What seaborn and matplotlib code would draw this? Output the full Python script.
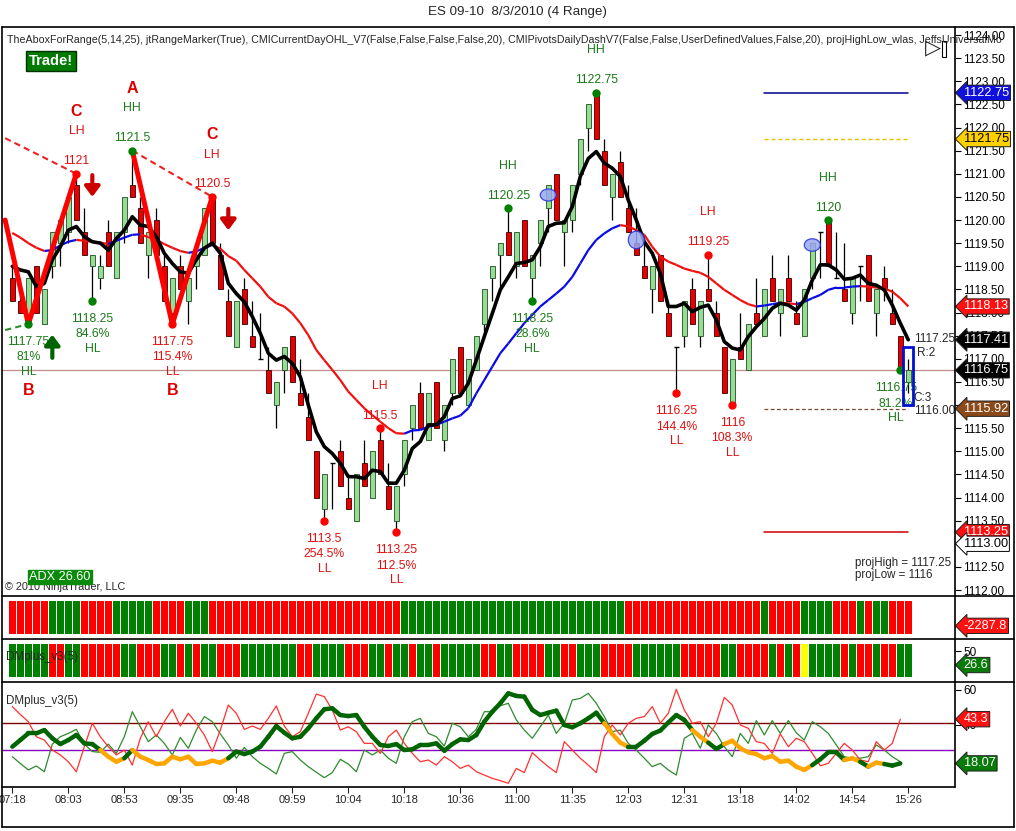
import numpy as np
import pandas as pd
import matplotlib
matplotlib.use("Agg")
import matplotlib.pyplot as plt
import matplotlib.transforms as mtransforms
from matplotlib.collections import LineCollection
from matplotlib.lines import Line2D
from matplotlib.patches import Ellipse, Rectangle
import seaborn as sns

sns.set_style("white")
plt.rcParams["font.family"] = ["Liberation Sans", "DejaVu Sans"]

# ES 09-10 4-range bars, 8/3/2010
opens = [1118.75, 1118.25, 1117.75, 1119.0, 1117.75, 1119.0, 1119.5, 1119.75, 1120.75, 1119.75,
         1119.0, 1118.75, 1119.75, 1118.75, 1119.75, 1120.75, 1120.25, 1119.25, 1120.0, 1119.0,
         1118.0, 1119.0, 1118.25, 1119.0, 1119.25, 1120.5, 1119.25, 1118.25, 1117.25, 1118.5,
         1117.5, 1117.0, 1116.75, 1116.0, 1116.75, 1117.5, 1116.25, 1115.75, 1115.0, 1113.75,
         1114.75, 1115.0, 1114.0, 1113.5, 1114.75, 1114.0, 1115.25, 1114.25, 1113.5, 1114.5,
         1115.5, 1116.25, 1115.25, 1116.5, 1115.25, 1116.25, 1117.25, 1116.0, 1116.75, 1117.75,
         1118.75, 1119.25, 1119.75, 1119.0, 1120.0, 1118.75, 1119.5, 1120.25, 1121.0, 1119.75,
         1120.0, 1121.0, 1122.0, 1122.75, 1121.5, 1120.5, 1121.25, 1120.25, 1119.5, 1119.0,
         1118.5, 1119.25, 1118.0, 1117.25, 1117.5, 1118.5, 1117.5, 1118.5, 1118.0, 1117.25,
         1116.0, 1117.25, 1116.75, 1118.0, 1117.5, 1118.75, 1118.0, 1118.75, 1118.0, 1117.5,
         1118.75, 1119.75, 1120.0, 1118.75, 1118.5, 1118.0, 1119.0, 1119.25, 1118.0, 1118.75,
         1118.0, 1117.5, 1116.5]
highs = [1119.0, 1118.75, 1118.75, 1119.0, 1118.5, 1119.75, 1120.0, 1120.5, 1121.0, 1120.25,
         1119.25, 1119.25, 1120.0, 1119.75, 1120.5, 1121.5, 1120.5, 1119.75, 1120.25, 1119.25,
         1118.75, 1119.25, 1118.75, 1119.5, 1120.25, 1120.5, 1119.5, 1118.5, 1118.25, 1118.75,
         1118.25, 1118.0, 1117.25, 1116.5, 1117.25, 1117.5, 1117.0, 1116.25, 1115.0, 1114.5,
         1114.75, 1115.25, 1114.5, 1114.5, 1115.25, 1115.0, 1115.5, 1114.75, 1114.25, 1115.25,
         1116.0, 1116.5, 1116.25, 1116.5, 1116.0, 1117.0, 1117.25, 1117.0, 1117.5, 1118.5,
         1119.0, 1119.5, 1120.25, 1119.75, 1120.0, 1119.25, 1120.0, 1120.75, 1121.0, 1120.0,
         1120.75, 1121.75, 1122.5, 1122.75, 1121.75, 1121.0, 1121.5, 1120.75, 1120.25, 1119.5,
         1119.0, 1119.25, 1118.25, 1117.25, 1118.25, 1118.75, 1118.25, 1119.25, 1118.25, 1117.25,
         1117.0, 1118.0, 1117.75, 1118.75, 1118.5, 1119.25, 1118.5, 1119.25, 1118.25, 1118.5,
         1119.5, 1119.75, 1120.0, 1119.75, 1119.5, 1118.75, 1119.0, 1119.25, 1118.5, 1119.0,
         1118.5, 1117.5, 1117.0]
lows = [1118.25, 1118.0, 1117.75, 1118.0, 1117.75, 1118.75, 1119.0, 1119.5, 1120.0, 1119.25,
        1118.25, 1118.5, 1119.0, 1118.75, 1119.5, 1120.5, 1119.5, 1118.75, 1119.25, 1118.25,
        1117.75, 1118.5, 1117.75, 1118.5, 1119.25, 1119.5, 1118.5, 1117.5, 1117.25, 1117.75,
        1117.25, 1117.0, 1116.25, 1115.5, 1116.25, 1116.5, 1116.0, 1115.25, 1114.0, 1113.5,
        1113.75, 1114.25, 1113.75, 1113.5, 1114.25, 1114.0, 1114.5, 1113.75, 1113.25, 1114.25,
        1115.25, 1115.5, 1115.25, 1115.5, 1115.0, 1116.0, 1116.25, 1116.0, 1116.75, 1117.5,
        1118.25, 1118.5, 1119.25, 1118.75, 1119.0, 1118.25, 1119.0, 1119.75, 1120.0, 1119.0,
        1119.75, 1120.75, 1121.5, 1121.75, 1120.75, 1120.0, 1120.5, 1119.75, 1119.25, 1118.75,
        1118.0, 1118.25, 1117.5, 1116.25, 1117.25, 1117.75, 1117.25, 1118.25, 1117.5, 1116.25,
        1116.0, 1117.0, 1116.75, 1117.75, 1117.5, 1118.25, 1117.5, 1118.25, 1117.75, 1117.5,
        1118.5, 1118.75, 1119.0, 1118.75, 1118.25, 1117.75, 1118.25, 1118.25, 1117.5, 1118.25,
        1117.75, 1116.75, 1116.25]
closes = [1118.25, 1118.0, 1118.75, 1118.0, 1118.5, 1119.75, 1120.0, 1120.5, 1120.0, 1119.25,
          1119.25, 1119.0, 1119.0, 1119.75, 1120.5, 1120.5, 1119.5, 1119.75, 1119.25, 1118.25,
          1118.75, 1118.5, 1118.75, 1119.25, 1120.25, 1119.5, 1118.5, 1117.5, 1118.25, 1117.75,
          1117.25, 1117.0, 1116.25, 1116.5, 1117.25, 1116.5, 1116.0, 1115.25, 1114.0, 1114.5,
          1114.75, 1114.25, 1113.75, 1114.5, 1114.25, 1115.0, 1114.5, 1113.75, 1114.25, 1115.25,
          1116.0, 1115.5, 1116.25, 1115.5, 1116.0, 1117.0, 1116.25, 1117.0, 1117.5, 1118.5,
          1119.0, 1119.5, 1119.25, 1119.75, 1119.0, 1119.25, 1120.0, 1120.75, 1120.0, 1120.0,
          1120.75, 1121.75, 1122.5, 1121.75, 1120.75, 1121.0, 1120.5, 1119.75, 1119.25, 1118.75,
          1119.0, 1118.25, 1117.5, 1117.25, 1118.25, 1117.75, 1118.25, 1118.25, 1117.5, 1116.25,
          1117.0, 1117.0, 1117.75, 1117.75, 1118.5, 1118.25, 1118.5, 1118.25, 1117.75, 1118.5,
          1119.5, 1119.75, 1119.0, 1118.75, 1118.25, 1118.75, 1119.0, 1118.25, 1118.5, 1118.5,
          1117.75, 1116.75, 1116.75]
fast_ma = [1119.0, 1118.92, 1118.88, 1118.56, 1118.63, 1119.14, 1119.42, 1119.78, 1119.86, 1119.64,
           1119.53, 1119.5, 1119.35, 1119.6, 1119.78, 1120.07, 1119.89, 1119.86, 1119.64, 1119.28,
           1119.06, 1118.88, 1118.85, 1119.14, 1119.39, 1119.5, 1119.28, 1118.63, 1118.41, 1118.23,
           1117.91, 1117.55, 1117.12, 1116.97, 1117.05, 1116.9, 1116.61, 1116.0, 1115.42, 1115.1,
           1114.95, 1114.74, 1114.45, 1114.45, 1114.41, 1114.59, 1114.56, 1114.31, 1114.31, 1114.59,
           1115.06, 1115.21, 1115.57, 1115.57, 1115.75, 1116.14, 1116.2, 1116.47, 1116.97, 1117.48,
           1117.98, 1118.49, 1118.77, 1119.06, 1119.08, 1119.14, 1119.42, 1119.86, 1119.93, 1119.94,
           1120.29, 1120.94, 1121.33, 1121.48, 1121.23, 1121.12, 1120.94, 1120.43, 1120.0, 1119.53,
           1119.28, 1118.85, 1118.13, 1118.13, 1118.2, 1118.02, 1118.11, 1118.16, 1117.84, 1117.37,
           1117.23, 1117.19, 1117.48, 1117.69, 1117.87, 1118.09, 1118.2, 1118.16, 1118.05, 1118.27,
           1118.7, 1119.03, 1119.03, 1118.92, 1118.72, 1118.74, 1118.81, 1118.63, 1118.59, 1118.49,
           1118.16, 1117.77, 1117.41]
slow_ma = [1119.72, 1119.62, 1119.5, 1119.4, 1119.33, 1119.35, 1119.45, 1119.53, 1119.57, 1119.55,
           1119.53, 1119.51, 1119.48, 1119.55, 1119.62, 1119.68, 1119.69, 1119.63, 1119.57, 1119.48,
           1119.4, 1119.33, 1119.29, 1119.32, 1119.4, 1119.46, 1119.38, 1119.22, 1119.12, 1118.92,
           1118.74, 1118.56, 1118.34, 1118.2, 1118.13, 1117.98, 1117.77, 1117.51, 1117.19, 1116.97,
           1116.76, 1116.54, 1116.29, 1116.11, 1115.93, 1115.78, 1115.64, 1115.5, 1115.39, 1115.38,
           1115.45, 1115.46, 1115.53, 1115.57, 1115.64, 1115.71, 1115.77, 1115.93, 1116.25, 1116.54,
           1116.83, 1117.12, 1117.33, 1117.55, 1117.77, 1117.95, 1118.13, 1118.27, 1118.41, 1118.56,
           1118.77, 1119.06, 1119.35, 1119.57, 1119.71, 1119.82, 1119.89, 1119.86, 1119.78, 1119.68,
           1119.42, 1119.21, 1119.1, 1119.03, 1118.95, 1118.9, 1118.86, 1118.77, 1118.63, 1118.49,
           1118.38, 1118.27, 1118.18, 1118.13, 1118.15, 1118.18, 1118.21, 1118.2, 1118.18, 1118.23,
           1118.31, 1118.38, 1118.49, 1118.54, 1118.54, 1118.56, 1118.57, 1118.56, 1118.54, 1118.52,
           1118.45, 1118.31, 1118.13]

time_labels = ["07:18", "08:03", "08:53", "09:35", "09:48", "09:59", "10:04", "10:18", "10:36",
               "11:00", "11:35", "12:03", "12:31", "13:18", "14:02", "14:54", "15:26"]

# swing points
hi_idx = [8, 15, 25, 46, 62, 73, 87, 102]
hi_price = [1121.0, 1121.5, 1120.5, 1115.5, 1120.25, 1122.75, 1119.25, 1120.0]
hi_kind = ["LH", "HH", "LH", "LH", "HH", "HH", "LH", "HH"]
lo_idx = [2, 10, 20, 39, 48, 65, 83, 90, 111]
lo_price = [1117.75, 1118.25, 1117.75, 1113.5, 1113.25, 1118.25, 1116.25, 1116.0, 1116.75]
lo_pct = ["81%", "84.6%", "115.4%", "254.5%", "112.5%", "28.6%", "144.4%", "108.3%", "81.2%"]
lo_kind = ["HL", "HL", "LL", "LL", "LL", "HL", "LL", "LL", "HL"]
abc_letter = ["C", "A", "C", "B", "B"]
abc_idx = [8, 15, 25, 2, 20]

# zigzag legs (index, price)
zz1_idx, zz1_price = [-0.9, 2, 8], [1120.0, 1117.75, 1121.0]
zz2_idx, zz2_price = [15, 20, 25], [1121.5, 1117.75, 1120.5]
dash1_idx, dash1_price = [-0.9, 8], [1121.77, 1121.0]
dash2_idx, dash2_price = [15, 25], [1121.5, 1120.5]
gdash_idx, gdash_price = [-0.9, 2], [1117.62, 1117.75]

arrow_idx = [10, 27, 5]
arrow_from = [1120.97, 1120.24, 1117.02]
arrow_to = [1120.5, 1119.78, 1117.52]

oval_idx = [67, 78, 100]
oval_price = [1120.54, 1119.57, 1119.46]
oval_h = [0.26, 0.38, 0.27]

proj_high, proj_low = 1117.25, 1116.0
level_blue, level_yellow, level_red, level_brown = 1122.75, 1121.75, 1113.25, 1115.92
level_white = 1113.0
day_open = 1116.75

# indicator panels
trend_bars = ("RRRRRGGGGRRRRGGGGGRRRRGGGRRRRRRRRRRRRRRRRRRRRRRRRGGGGGGGGGGGGGGGGGGGGGGGGGGGG"
              "RRRRRRRRRRRRRRRRRGRRRRGGGGRRRGRGGRRR")
trend_value = "-2287.8"
dm_bars = ("GGGGGRRGGRRRRRGGRRRGGRGRGGRRRGGGGGGGRRGGGGRRRGGRGGRGGRGGGGGRRGGRRRRGGRRGGGRRRR"
           "GGGGGGRRRRRGGRRRRGRGRYGGGGRGRRGRRGG")
dm_value = 26.6
adx_value = "ADX 26.60"
adx = [27.6, 31.4, 35.2, 35.2, 37.1, 32.4, 29.1, 31.4, 34.3, 29.5, 29.1, 25.7, 21.9, 19.0, 21.0,
       25.7, 21.9, 20.0, 17.7, 18.1, 21.9, 20.4, 21.9, 17.7, 18.1, 19.6, 18.5, 21.0, 24.8, 23.4,
       24.8, 27.6, 33.3, 39.4, 35.6, 32.4, 33.3, 38.1, 43.8, 49.0, 49.5, 45.7, 45.1, 45.7, 39.0,
       33.3, 28.6, 28.0, 29.1, 25.7, 26.1, 28.6, 28.6, 29.5, 25.3, 29.1, 31.8, 31.4, 34.3, 41.9,
       47.6, 52.4, 58.1, 56.6, 56.2, 48.6, 45.7, 47.0, 48.2, 40.0, 38.7, 41.0, 43.8, 47.0, 41.0,
       34.9, 29.9, 27.6, 27.6, 31.0, 34.9, 36.8, 41.4, 45.7, 42.9, 37.1, 33.3, 29.9, 26.3, 29.1,
       31.0, 26.7, 24.4, 23.4, 21.0, 22.3, 19.0, 19.6, 16.2, 14.3, 17.1, 20.4, 24.4, 24.4, 20.0,
       21.0, 19.0, 16.2, 18.5, 17.7, 16.8, 18.07]
adx_col = ("GGGGGGGGGGGOOOGOOOOOOOOOOOOGGGGGGGGGGGGGGGGGGGGGGGGGGGGGGGGGGGGGGGGGGGGGGGOOOGGGGGGGG"
           "OOGGOOOOOOOOOOOGGGGOOGOOG")
di_plus = [21.9, 18.0, 14.3, 16.6, 13.3, 29.1, 33.3, 35.2, 37.5, 29.1, 24.8, 24.4, 29.1, 23.8, 33.3,
           47.6, 39.0, 30.5, 34.3, 29.5, 22.9, 32.9, 26.7, 37.1, 44.8, 41.9, 34.9, 28.6, 21.0, 27.2,
           21.9, 18.1, 15.2, 12.0, 23.8, 24.8, 20.0, 16.2, 13.0, 9.9, 12.8, 20.4, 17.7, 13.3, 25.7,
           22.9, 25.7, 21.0, 18.1, 33.3, 41.9, 43.8, 35.2, 33.3, 28.0, 41.0, 39.0, 33.3, 37.5, 47.6,
           47.6, 51.0, 52.4, 42.9, 37.1, 32.4, 39.0, 45.7, 35.2, 41.0, 54.3, 55.2, 58.1, 52.4, 44.8,
           36.2, 37.1, 29.5, 25.7, 21.0, 16.2, 18.1, 14.3, 11.4, 32.4, 35.2, 26.7, 40.0, 35.2, 27.6,
           21.9, 35.2, 29.5, 42.5, 34.3, 42.5, 35.2, 42.5, 35.6, 31.4, 41.9, 39.0, 35.2, 28.6, 21.9,
           21.0, 21.0, 21.9, 28.6, 25.7, 21.9, 19.0]
di_minus = [50.5, 46.0, 41.9, 33.3, 31.4, 25.7, 22.9, 19.0, 13.3, 27.6, 41.0, 33.3, 27.6, 22.9, 25.7,
            17.1, 32.4, 41.9, 33.3, 41.9, 49.0, 39.4, 46.7, 41.0, 34.3, 24.8, 37.1, 51.4, 46.7, 37.5,
            39.4, 37.5, 43.8, 50.9, 39.4, 33.3, 36.2, 46.7, 57.7, 56.2, 48.6, 37.1, 39.0, 36.2, 29.5,
            29.5, 23.8, 33.3, 37.1, 29.5, 23.8, 19.0, 20.0, 17.1, 21.9, 19.0, 15.2, 17.1, 13.3, 11.4,
            9.5, 8.2, 6.7, 15.2, 12.8, 24.2, 20.0, 16.2, 12.8, 30.5, 25.7, 21.0, 17.1, 12.8, 33.3,
            40.0, 34.3, 41.0, 43.8, 44.8, 50.5, 41.0, 46.7, 60.4, 48.6, 41.0, 41.9, 33.3, 41.0, 55.8,
            51.4, 40.0, 38.1, 30.5, 29.5, 23.8, 34.9, 27.6, 32.4, 30.5, 23.8, 16.7, 18.1, 23.8, 29.5,
            25.7, 20.0, 19.0, 30.5, 25.7, 29.5, 43.3]
dm_hi_level, dm_lo_level = 41.0, 25.7

RED, GREEN = "#e01010", "#1a7a1a"
W, H = 1016, 831


def rect(l, t, r, b):
    return [l / W, 1 - b / H, (r - l) / W, (b - t) / H]


def fpt(x, y):
    return x / W, 1 - y / H


fig = plt.figure(figsize=(W / 100, H / 100), dpi=100)
fig.patch.set_facecolor("white")
ax = fig.add_axes(rect(2, 27, 955, 595))
ax2 = fig.add_axes(rect(2, 596, 955, 638), sharex=ax)
ax3 = fig.add_axes(rect(2, 639, 955, 681), sharex=ax)
ax4 = fig.add_axes(rect(2, 682, 955, 787), sharex=ax)
for a in (ax, ax2, ax3, ax4):
    a.set_facecolor("white")
    for s in a.spines.values():
        s.set_visible(False)
    a.yaxis.tick_right()
    a.tick_params(axis="y", direction="out", length=4, width=0.8, pad=2, labelsize=8.5, colors="black")
    a.tick_params(axis="x", bottom=False, labelbottom=False)
ax.set_xlim(-1.29, 117.84)

# ---- price panel ----
df = pd.DataFrame({"o": opens, "h": highs, "l": lows, "c": closes})
df["x"] = np.arange(len(df))
up = df[df.c > df.o]
dn = df[df.c < df.o]
dj = df[df.c == df.o]
ax.axhline(day_open, color="#c08c8c", lw=0.9, zorder=1)
ax.vlines(df.x, df.l, df.h, color="black", lw=0.9, zorder=2)
ax.bar(up.x, up.c - up.o, bottom=up.o, width=0.62, color="#96dc96", edgecolor="#1f4f1f", lw=0.6, zorder=3)
ax.bar(dn.x, dn.o - dn.c, bottom=dn.c, width=0.62, color="#e80000", edgecolor="#3a0000", lw=0.6, zorder=3)
ax.hlines(dj.c, dj.x - 0.31, dj.x + 0.31, color="black", lw=1.0, zorder=3)

pts = np.column_stack([df.x, slow_ma])
segs = np.stack([pts[:-1], pts[1:]], axis=1)
seg_cols = ["#0a0ae6" if b >= a else "#f01010" for a, b in zip(slow_ma[:-1], slow_ma[1:])]
ax.add_collection(LineCollection(segs, colors=seg_cols, linewidths=1.6, zorder=4))
sns.lineplot(x=df.x, y=fast_ma, ax=ax, color="black", linewidth=2.6, zorder=5, legend=False)

# ABC zigzag
ax.plot(zz1_idx, zz1_price, color="#ff0000", lw=3.6, zorder=6, solid_capstyle="round")
ax.plot(zz2_idx, zz2_price, color="#ff0000", lw=3.6, zorder=6, solid_capstyle="round")
ax.plot(dash1_idx, dash1_price, color="#ee2020", lw=1.5, ls=(0, (3, 2)), zorder=6)
ax.plot(dash2_idx, dash2_price, color="#ee2020", lw=1.5, ls=(0, (3, 2)), zorder=6)
ax.plot(gdash_idx, gdash_price, color="#2e8b2e", lw=1.5, ls=(0, (3, 2)), zorder=6)

# projection levels
seg_x = [94, 112]
ax.plot(seg_x, [level_blue] * 2, color="#00008b", lw=1.1, zorder=2)
ax.plot(seg_x, [level_yellow] * 2, color="#e8c000", lw=1.0, ls=(0, (3, 2)), zorder=2)
ax.plot(seg_x, [level_red] * 2, color="#cc0000", lw=1.1, zorder=2)
ax.plot(seg_x, [level_brown] * 2, color="#7a4a2a", lw=0.9, ls=(0, (3, 2)), zorder=2)

# swing labels
for i, p, k in zip(hi_idx, hi_price, hi_kind):
    c = GREEN if k == "HH" else RED
    ax.plot(i, p, "o", ms=5, color="#008000" if k == "HH" else "#ff0000", zorder=7)
    ax.annotate(f"{p:g}", (i, p), xytext=(0, 9), textcoords="offset points", ha="center",
                va="center", color=c, fontsize=8.8, zorder=8)
    ax.annotate(k, (i, p), xytext=(0, 30.5), textcoords="offset points", ha="center",
                va="center", color=c, fontsize=8.8, zorder=8)
for i, p, pc, k in zip(lo_idx, lo_price, lo_pct, lo_kind):
    c = GREEN if k == "HL" else RED
    ax.plot(i, p, "o", ms=5, color="#008000" if k == "HL" else "#ff0000", zorder=7)
    for off, t in zip([-13, -24, -34.5], [f"{p:g}", pc, k]):
        ax.annotate(t, (i, p), xytext=(-3 if i > 105 else 0, off), textcoords="offset points",
                    ha="center", va="center", color=c, fontsize=8.8, zorder=8)
for letter, i in zip(abc_letter, abc_idx):
    p = df.h[i] if letter != "B" else df.l[i]
    off = 45 if letter != "B" else -47.5
    ax.annotate(letter, (i, p), xytext=(0, off), textcoords="offset points", ha="center",
                va="center", color="#dd0000", fontsize=11.5, fontweight="bold", zorder=8)

for i, a, b in zip(arrow_idx, arrow_from, arrow_to):
    col = "#006400" if b > a else "#cc0000"
    ax.annotate("", xy=(i, b), xytext=(i, a),
                arrowprops=dict(arrowstyle="-|>,head_width=0.45,head_length=0.6", color=col,
                                lw=3.0, shrinkA=0, shrinkB=0), zorder=8)

for i, p, hh in zip(oval_idx, oval_price, oval_h):
    ax.add_patch(Ellipse((i, p), 2.0, hh, fc="#9aa8f0", ec="#2030e0", lw=0.9, alpha=0.85, zorder=8))

ax.add_patch(Rectangle((111.4, proj_low), 1.2, proj_high - proj_low, fill=False, ec="#0010d0",
                       lw=2.0, zorder=9))
ax.annotate(f"{proj_high:.2f}", (112.6, proj_high), xytext=(1, 6), textcoords="offset points",
            fontsize=8.5, ha="left", va="center", zorder=9)
ax.annotate("R:2", (112.6, proj_high), xytext=(3, -4), textcoords="offset points",
            fontsize=8.5, ha="left", va="center", zorder=9)
ax.annotate("C:3", (112.6, proj_low), xytext=(0, 5), textcoords="offset points",
            fontsize=8.5, ha="left", va="center", zorder=9)
ax.annotate(f"{proj_low:.2f}", (112.6, proj_low), xytext=(1, -4.5), textcoords="offset points",
            fontsize=8.5, ha="left", va="center", zorder=9)
ax.text(105.3, 1112.45, f"projHigh = {proj_high:g}\nprojLow = {proj_low:g}", fontsize=8.3,
        ha="left", va="center", linespacing=1.0, zorder=9)

ax.set_ylim(1111.892, 1124.173)
ax.set_yticks(np.arange(1112, 1124.01, 0.5))
ax.set_yticklabels([f"{v:.2f}" for v in np.arange(1112, 1124.01, 0.5)])


def tag(a, val, text, fc, tc="white", ec=None, axes_y=False):
    tr = a.transAxes if axes_y else mtransforms.blended_transform_factory(a.transAxes, a.transData)
    a.text(1.009, val, text, transform=tr, ha="left", va="center", fontsize=9.2, color=tc,
           bbox=dict(boxstyle="larrow,pad=0.13", fc=fc, ec=ec or "#202020", lw=0.7),
           clip_on=False, zorder=30)


tag(ax, level_blue, f"{level_blue:.2f}", "#1010dd")
tag(ax, level_yellow, f"{level_yellow:.2f}", "#ffd000", tc="black")
tag(ax, slow_ma[-1], f"{slow_ma[-1]:.2f}", "#ff1010")
tag(ax, fast_ma[-1], f"{fast_ma[-1]:.2f}", "black")
tag(ax, closes[-1], f"{closes[-1]:.2f}", "black")
tag(ax, level_brown, f"{level_brown:.2f}", "#8b4a1a")
tag(ax, level_red, f"{level_red:.2f}", "#ff1010")
tag(ax, level_white, f"{level_white:.2f}", "white", tc="black", ec="black")

# ---- colour-bar panels ----
cmap = {"R": "#ff0000", "G": "#008000", "Y": "#ffff00"}
ax2.bar(np.arange(len(trend_bars)), 0.785, bottom=0.095, width=0.84,
        color=[cmap[c] for c in trend_bars], lw=0)
ax2.set_ylim(0, 1)
ax2.set_yticks([])
tag(ax2, 0.29, trend_value, "#ff1010", axes_y=True)

ax3.bar(np.arange(len(dm_bars)), 55, bottom=6.6, width=0.84,
        color=[cmap[c] for c in dm_bars], lw=0)
ax3.set_ylim(0, 70)
ax3.set_yticks([50])
tag(ax3, dm_value, f"{dm_value:.1f}", "#0a7a0a")
ax3.text(0.004, 0.57, "DMplus_v3(5)", transform=ax3.transAxes, fontsize=8.3, va="center", zorder=5)

# ---- DMplus panel ----
kx = np.arange(len(adx))
ax4.axhline(dm_hi_level, color="#800000", lw=1.0, zorder=1)
ax4.axhline(dm_lo_level, color="#8a00c0", lw=1.0, zorder=1)
sns.lineplot(x=kx, y=di_plus, ax=ax4, color="#2e8b2e", linewidth=0.9, legend=False, zorder=2)
sns.lineplot(x=kx, y=di_minus, ax=ax4, color="#ff3030", linewidth=0.9, legend=False, zorder=2)
apts = np.column_stack([kx, adx])
asegs = np.stack([apts[:-1], apts[1:]], axis=1)
ax4.add_collection(LineCollection(asegs, colors=["#006400" if c == "G" else "#ffa500" for c in adx_col],
                                  linewidths=3.2, zorder=3, capstyle="round", joinstyle="round"))
ax4.set_ylim(4.57, 64.57)
ax4.set_yticks([40, 60])
ax4.text(0.004, 0.82, "DMplus_v3(5)", transform=ax4.transAxes, fontsize=8.3, va="center")
tag(ax4, di_minus[-1], f"{di_minus[-1]:.1f}", "#ff1010")
tag(ax4, adx[-1], f"{adx[-1]:.2f}", "#0a7a0a")
ax4.set_xticks(np.arange(0, len(closes), 7))
ax4.set_xticklabels(time_labels)
ax4.tick_params(axis="x", bottom=True, labelbottom=True, direction="out", length=4, width=0.8,
                pad=2, labelsize=8.0)
for a in (ax, ax2, ax3, ax4):
    a.set_xlabel("")
    a.set_ylabel("")
ax.set_xlim(-1.29, 117.84)


# ---- frame and header ----
def fline(x0, y0, x1, y1, lw=1.2):
    fig.add_artist(Line2D([x0 / W, x1 / W], [1 - y0 / H, 1 - y1 / H], color="black", lw=lw))


fline(2, 27, 1014, 27)
fline(2, 27, 2, 827)
fline(1014, 27, 1014, 827)
fline(2, 827, 1014, 827)
fline(955, 27, 955, 787)
fline(2, 596, 1014, 596)
fline(2, 638.5, 1014, 638.5)
fline(2, 681.5, 1014, 681.5)
fline(2, 787, 955, 787)

fig.text(*fpt(517, 12), "ES 09-10  8/3/2010 (4 Range)", ha="center", va="center", fontsize=9.6)
fig.text(*fpt(7, 40), "TheAboxForRange(5,14,25), jtRangeMarker(True), CMICurrentDayOHL_V7(False,False,"
         "False,False,20), CMIPivotsDailyDashV7(False,False,UserDefinedValues,False,20), "
         "projHighLow_wlas, JeffsUniversalMo", ha="left", va="center", fontsize=7.68, zorder=1)
fig.text(*fpt(51, 61), "Trade!", ha="center", va="center", fontsize=10.5, fontweight="bold",
         color="white", bbox=dict(boxstyle="square,pad=0.2", fc="#007a00", ec="#003000", lw=1))
fig.text(*fpt(5, 587), "© 2010 NinjaTrader, LLC", ha="left", va="center", fontsize=7.8)
fig.text(*fpt(60, 577), adx_value, ha="center", va="center", fontsize=9.2, color="white",
         bbox=dict(boxstyle="square,pad=0.1", fc="#0a8a0a", ec="#0a8a0a"))
fig.text(*fpt(933, 48), "▷", ha="center", va="center", fontsize=15, family="DejaVu Sans")
fig.add_artist(Rectangle(fpt(942, 57), 4 / W, 16 / H, fill=False, ec="black", lw=0.8))

fig.savefig("out.png", dpi=100)
